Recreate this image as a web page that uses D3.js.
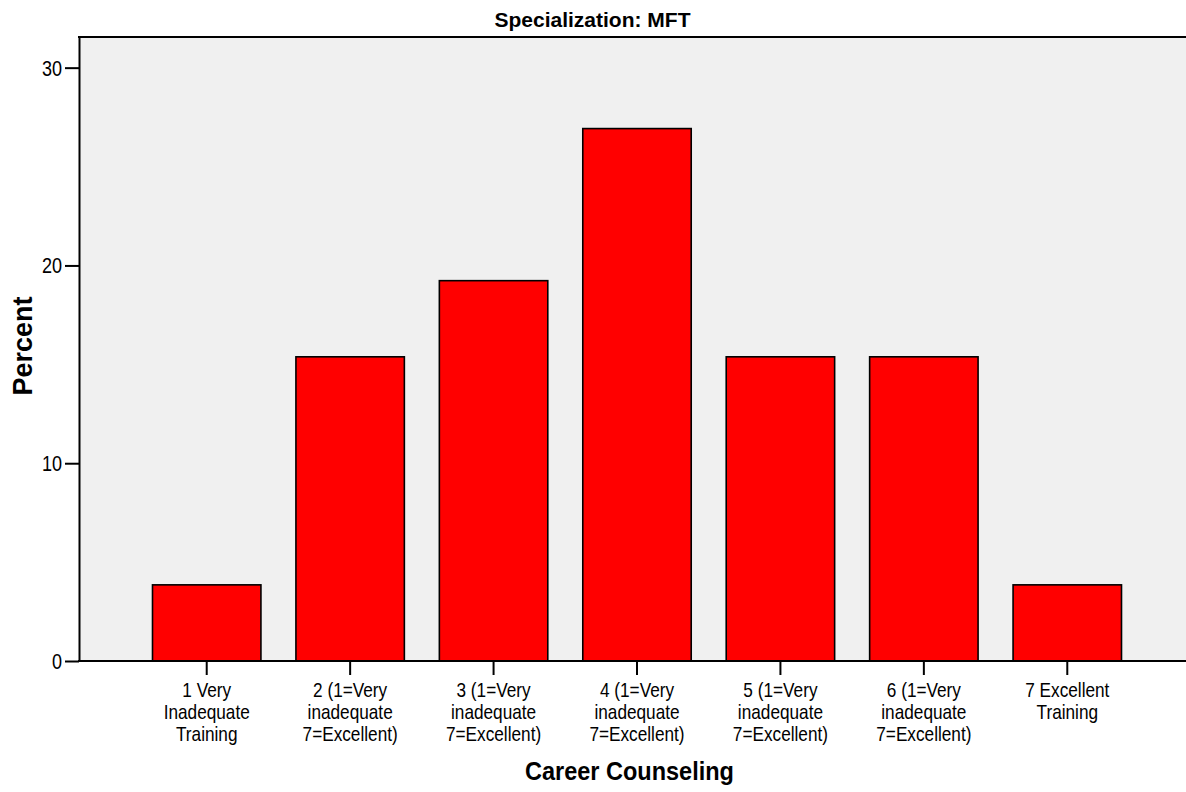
<!DOCTYPE html>
<html>
<head>
<meta charset="utf-8">
<script src="https://cdn.jsdelivr.net/npm/d3@7"></script>
<style>
  html, body { margin: 0; padding: 0; background: #fff; }
  svg { display: block; font-family: "Liberation Sans", Arial, sans-serif; }
</style>
</head>
<body>
<svg id="chart" width="1186" height="792"></svg>
<script>
// ---- data ----
const categories = [
  "1 Very|Inadequate|Training",
  "2 (1=Very|inadequate|7=Excellent)",
  "3 (1=Very|inadequate|7=Excellent)",
  "4 (1=Very|inadequate|7=Excellent)",
  "5 (1=Very|inadequate|7=Excellent)",
  "6 (1=Very|inadequate|7=Excellent)",
  "7 Excellent|Training"
];
const percents = [3.85, 15.38, 19.23, 26.92, 15.38, 15.38, 3.85];
const yTicks = [0, 10, 20, 30];
const chartTitle = "Specialization: MFT";
const xTitle = "Career Counseling";
const yTitle = "Percent";

// ---- layout ----
const W = 1186, H = 792;
const plot = { left: 79, top: 37, right: 1186, bottom: 661 };
const narrow = 0.82;

const svg = d3.select("#chart");

const x = d3.scaleBand()
  .domain(categories)
  .range([135, 1139])
  .paddingInner(0.244)
  .paddingOuter(0.122);

const y = d3.scaleLinear()
  .domain([0, 31.55])
  .range([plot.bottom, plot.top]);

// background
svg.append("rect")
  .attr("x", plot.left).attr("y", plot.top)
  .attr("width", plot.right - plot.left).attr("height", plot.bottom - plot.top)
  .attr("fill", "#f0f0f0");

// bars
svg.append("g").selectAll("rect")
  .data(categories.map((c, i) => ({ c, v: percents[i] })))
  .join("rect")
  .attr("x", d => x(d.c))
  .attr("y", d => y(d.v))
  .attr("width", x.bandwidth())
  .attr("height", d => y(0) - y(d.v))
  .attr("fill", "#ff0000")
  .attr("stroke", "#000")
  .attr("stroke-width", 1.6);

// top border line
svg.append("line")
  .attr("x1", plot.left - 1).attr("x2", plot.right)
  .attr("y1", plot.top).attr("y2", plot.top)
  .attr("stroke", "#000").attr("stroke-width", 2.2);

// bottom baseline
svg.append("line")
  .attr("x1", plot.left - 1).attr("x2", plot.right)
  .attr("y1", plot.bottom).attr("y2", plot.bottom)
  .attr("stroke", "#000").attr("stroke-width", 2);

// y axis
const yAxis = svg.append("g")
  .attr("transform", `translate(${plot.left},0)`)
  .call(d3.axisLeft(y).tickValues(yTicks).tickSize(14).tickSizeOuter(0).tickPadding(3));
yAxis.select(".domain").attr("stroke", "#000").attr("stroke-width", 2);
yAxis.selectAll(".tick line").attr("stroke", "#000").attr("stroke-width", 2);
yAxis.selectAll(".tick text")
  .attr("font-size", 22)
  .attr("fill", "#000")
  .attr("font-family", "'Liberation Sans', Arial, sans-serif")
  .attr("x", -17 / narrow)
  .attr("dy", "0.34em")
  .attr("transform", `scale(${narrow},1)`);

// x axis
const xAxis = svg.append("g")
  .attr("transform", `translate(0,${plot.bottom})`)
  .call(d3.axisBottom(x).tickSize(14).tickSizeOuter(0));
xAxis.select(".domain").remove();
xAxis.selectAll(".tick line").attr("stroke", "#000").attr("stroke-width", 2);
xAxis.selectAll(".tick text").remove();
xAxis.selectAll(".tick").each(function(d) {
  const lines = d.split("|");
  const t = d3.select(this).append("text")
    .attr("transform", `scale(${narrow},1)`)
    .attr("text-anchor", "middle")
    .attr("font-size", 21)
    .attr("fill", "#000")
    .attr("font-family", "'Liberation Sans', Arial, sans-serif");
  lines.forEach((ln, i) => {
    t.append("tspan").attr("x", 0).attr("y", 36 + i * 22).text(ln);
  });
});

// title
svg.append("text")
  .attr("x", 592.5).attr("y", 27)
  .attr("text-anchor", "middle")
  .attr("font-weight", "bold")
  .attr("font-size", 21)
  .text(chartTitle);

// x title
svg.append("g")
  .attr("transform", "translate(629.5,780) scale(0.94,1)")
  .append("text")
  .attr("text-anchor", "middle")
  .attr("font-weight", "bold")
  .attr("font-size", 25)
  .text(xTitle);

// y title
svg.append("text")
  .attr("transform", "translate(31.5,346) rotate(-90)")
  .attr("text-anchor", "middle")
  .attr("font-weight", "bold")
  .attr("font-size", 27)
  .text(yTitle);
</script>
</body>
</html>
